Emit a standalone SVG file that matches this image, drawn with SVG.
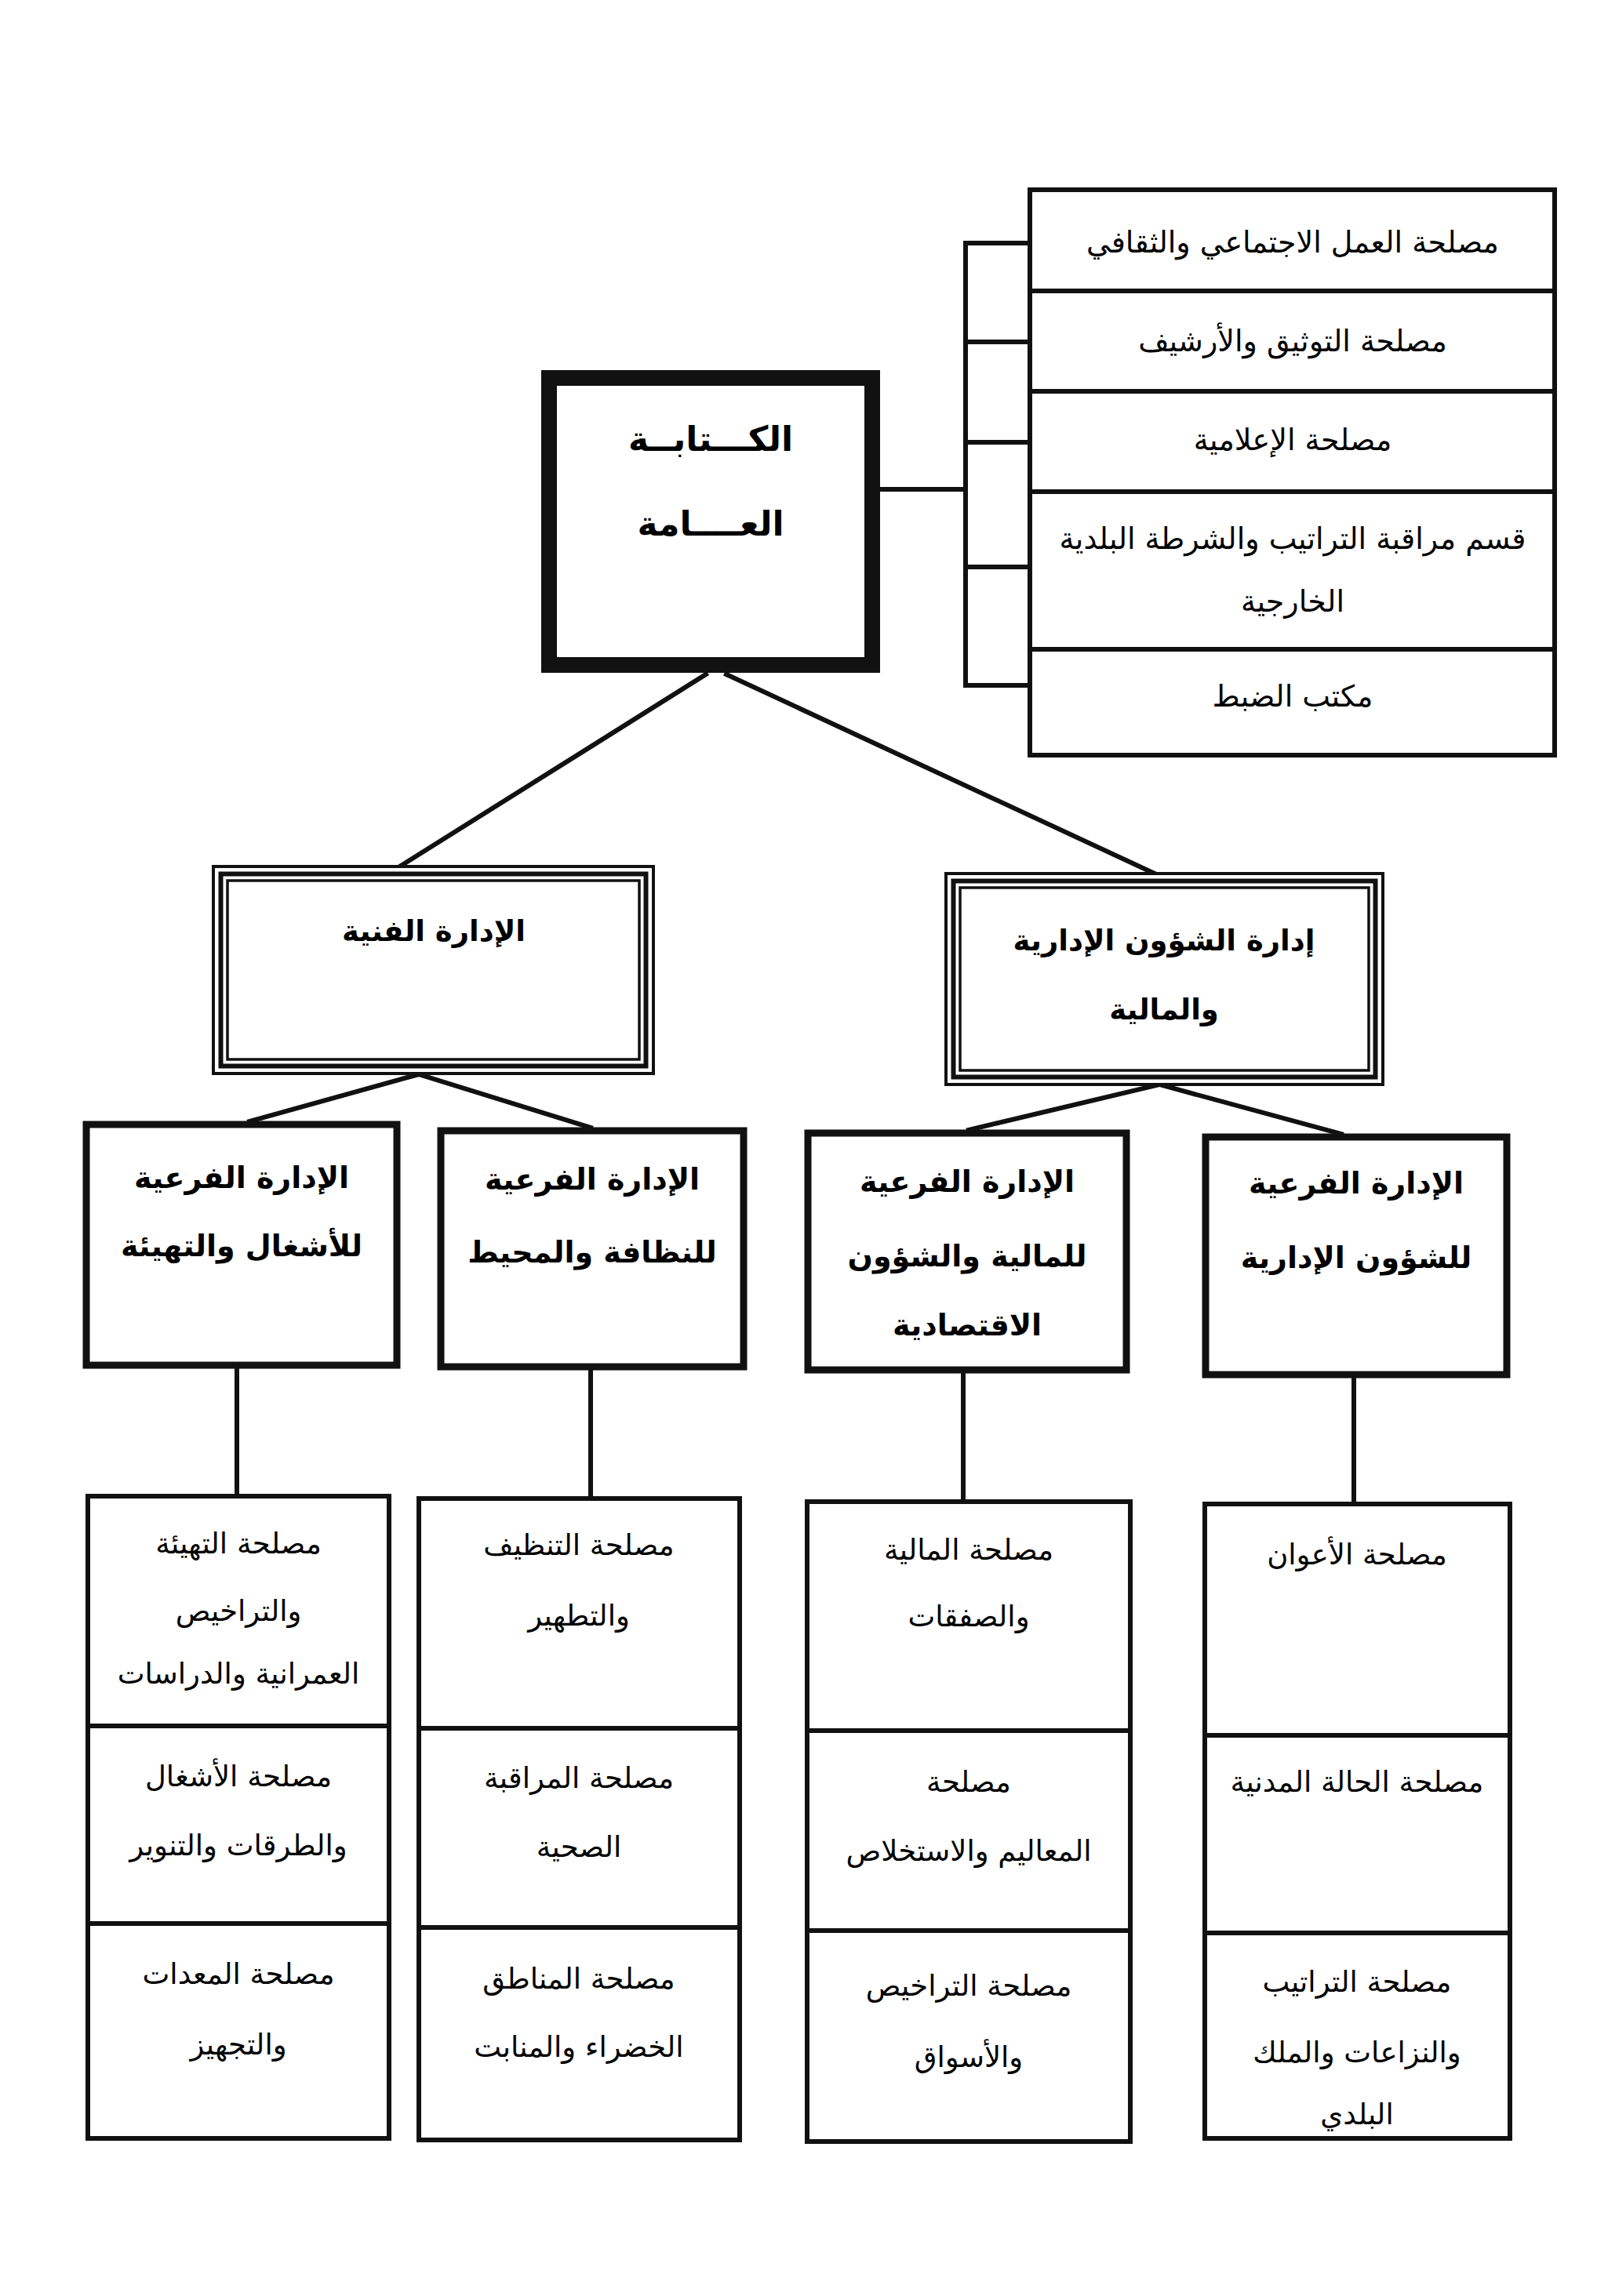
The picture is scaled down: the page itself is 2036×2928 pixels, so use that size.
<svg xmlns="http://www.w3.org/2000/svg" width="2036" height="2928" viewBox="0 0 2036 2928">
<style>
.ln{stroke:#111;fill:none;stroke-width:6;stroke-linecap:square}
.cell{fill:#fff;stroke:#111;stroke-width:6}
.div{stroke:#111;stroke-width:6}
.l3{fill:#fff;stroke:#111;stroke-width:9}
.o1{fill:#fff;stroke:#111;stroke-width:4}
.o2{fill:none;stroke:#111;stroke-width:6}
.o3{fill:none;stroke:#111;stroke-width:3.5}
.t{font-family:"DejaVu Sans",sans-serif;font-size:37px;fill:#000;text-anchor:middle}
.tt{font-family:"DejaVu Sans",sans-serif;font-size:38px;fill:#000;text-anchor:middle}
.tb{font-family:"DejaVu Sans",sans-serif;font-weight:bold;font-size:38px;fill:#000;text-anchor:middle}
.t2{font-family:"DejaVu Sans",sans-serif;font-weight:bold;font-size:37px;fill:#000;text-anchor:middle}
.tm{font-family:"DejaVu Sans",sans-serif;font-weight:bold;font-size:44px;fill:#000;text-anchor:middle}
</style>
<rect x="0" y="0" width="2036" height="2928" fill="#fff"/>

<g id="connectors">
  <line class="ln" x1="1122" y1="624" x2="1231" y2="624"/>
  <line class="ln" x1="1231" y1="310" x2="1231" y2="874"/>
  <line class="ln" x1="1231" y1="310" x2="1313" y2="310"/>
  <line class="ln" x1="1231" y1="436" x2="1313" y2="436"/>
  <line class="ln" x1="1231" y1="564" x2="1313" y2="564"/>
  <line class="ln" x1="1231" y1="723" x2="1313" y2="723"/>
  <line class="ln" x1="1231" y1="874" x2="1313" y2="874"/>
  <line class="ln" x1="900" y1="860" x2="508" y2="1106"/>
  <line class="ln" x1="926" y1="860" x2="1472" y2="1114"/>
  <line class="ln" x1="534" y1="1370" x2="318" y2="1430"/>
  <line class="ln" x1="534" y1="1370" x2="753" y2="1438"/>
  <line class="ln" x1="1478" y1="1383" x2="1235" y2="1441"/>
  <line class="ln" x1="1478" y1="1383" x2="1710" y2="1446"/>
  <line class="ln" x1="302" y1="1745" x2="302" y2="1908"/>
  <line class="ln" x1="753" y1="1747" x2="753" y2="1911"/>
  <line class="ln" x1="1228" y1="1751" x2="1228" y2="1915"/>
  <line class="ln" x1="1726" y1="1757" x2="1726" y2="1918"/>
</g>

<g id="main">
  <rect x="700" y="482" width="412" height="366" fill="#fff" stroke="#111" stroke-width="20"/>
  <text class="tm" x="906" y="575">الكـــتابــة</text>
  <text class="tm" x="906" y="683">العــــامة</text>
</g>

<g id="top-stack">
  <rect class="cell" x="1313" y="242" width="669" height="721"/>
  <line class="div" x1="1313" y1="371" x2="1982" y2="371"/>
  <line class="div" x1="1313" y1="499" x2="1982" y2="499"/>
  <line class="div" x1="1313" y1="627" x2="1982" y2="627"/>
  <line class="div" x1="1313" y1="828" x2="1982" y2="828"/>
  <text class="tt" x="1648" y="322">مصلحة العمل الاجتماعي والثقافي</text>
  <text class="tt" x="1648" y="448">مصلحة التوثيق والأرشيف</text>
  <text class="tt" x="1648" y="574">مصلحة الإعلامية</text>
  <text class="tt" x="1648" y="700">قسم مراقبة التراتيب والشرطة البلدية</text>
  <text class="tt" x="1648" y="780">الخارجية</text>
  <text class="tt" x="1648" y="901">مكتب الضبط</text>
</g>

<g id="technical-dept">
  <rect class="o1" x="272" y="1105" width="561" height="264"/>
  <rect class="o2" x="281.5" y="1114.5" width="542" height="245"/>
  <rect class="o3" x="290" y="1123" width="525" height="228"/>
  <text class="t2" x="553" y="1200">الإدارة الفنية</text>
</g>

<g id="admin-fin-dept">
  <rect class="o1" x="1206" y="1114" width="557" height="269"/>
  <rect class="o2" x="1215.5" y="1123.5" width="538" height="250"/>
  <rect class="o3" x="1224" y="1132" width="521" height="233"/>
  <text class="t2" x="1484" y="1212">إدارة الشؤون الإدارية</text>
  <text class="t2" x="1484" y="1300">والمالية</text>
</g>

<g id="sub-works">
  <rect class="l3" x="110" y="1434" width="396" height="307"/>
  <text class="tb" x="308" y="1515">الإدارة الفرعية</text>
  <text class="tb" x="308" y="1602">للأشغال والتهيئة</text>
</g>
<g id="sub-clean">
  <rect class="l3" x="562" y="1442" width="386" height="301"/>
  <text class="tb" x="755" y="1517">الإدارة الفرعية</text>
  <text class="tb" x="755" y="1610">للنظافة والمحيط</text>
</g>
<g id="sub-finance">
  <rect class="l3" x="1030" y="1445" width="406" height="302"/>
  <text class="tb" x="1233" y="1520">الإدارة الفرعية</text>
  <text class="tb" x="1233" y="1615">للمالية والشؤون</text>
  <text class="tb" x="1233" y="1703">الاقتصادية</text>
</g>
<g id="sub-admin">
  <rect class="l3" x="1537" y="1450" width="384" height="303"/>
  <text class="tb" x="1729" y="1522">الإدارة الفرعية</text>
  <text class="tb" x="1729" y="1617">للشؤون الإدارية</text>
</g>

<g id="stack-works">
  <rect class="cell" x="112" y="1908" width="384" height="819"/>
  <line class="div" x1="112" y1="2201" x2="496" y2="2201"/>
  <line class="div" x1="112" y1="2453" x2="496" y2="2453"/>
  <text class="t" x="304" y="1981">مصلحة التهيئة</text>
  <text class="t" x="304" y="2067">والتراخيص</text>
  <text class="t" x="304" y="2147">العمرانية والدراسات</text>
  <text class="t" x="304" y="2278">مصلحة الأشغال</text>
  <text class="t" x="304" y="2366">والطرقات والتنوير</text>
  <text class="t" x="304" y="2530">مصلحة المعدات</text>
  <text class="t" x="304" y="2620">والتجهيز</text>
</g>
<g id="stack-clean">
  <rect class="cell" x="534" y="1911" width="409" height="818"/>
  <line class="div" x1="534" y1="2204" x2="943" y2="2204"/>
  <line class="div" x1="534" y1="2458" x2="943" y2="2458"/>
  <text class="t" x="738" y="1983">مصلحة التنظيف</text>
  <text class="t" x="738" y="2073">والتطهير</text>
  <text class="t" x="738" y="2280">مصلحة المراقبة</text>
  <text class="t" x="738" y="2368">الصحية</text>
  <text class="t" x="738" y="2536">مصلحة المناطق</text>
  <text class="t" x="738" y="2623">الخضراء والمنابت</text>
</g>
<g id="stack-finance">
  <rect class="cell" x="1029" y="1915" width="412" height="816"/>
  <line class="div" x1="1029" y1="2207" x2="1441" y2="2207"/>
  <line class="div" x1="1029" y1="2462" x2="1441" y2="2462"/>
  <text class="t" x="1235" y="1989">مصلحة المالية</text>
  <text class="t" x="1235" y="2074">والصفقات</text>
  <text class="t" x="1235" y="2285">مصلحة</text>
  <text class="t" x="1235" y="2373">المعاليم والاستخلاص</text>
  <text class="t" x="1235" y="2545">مصلحة التراخيص</text>
  <text class="t" x="1235" y="2636">والأسواق</text>
</g>
<g id="stack-admin">
  <rect class="cell" x="1536" y="1918" width="389" height="809"/>
  <line class="div" x1="1536" y1="2213" x2="1925" y2="2213"/>
  <line class="div" x1="1536" y1="2465" x2="1925" y2="2465"/>
  <text class="t" x="1730" y="1995">مصلحة الأعوان</text>
  <text class="t" x="1730" y="2285">مصلحة الحالة المدنية</text>
  <text class="t" x="1730" y="2540">مصلحة التراتيب</text>
  <text class="t" x="1730" y="2630">والنزاعات والملك</text>
  <text class="t" x="1730" y="2709">البلدي</text>
</g>
</svg>
